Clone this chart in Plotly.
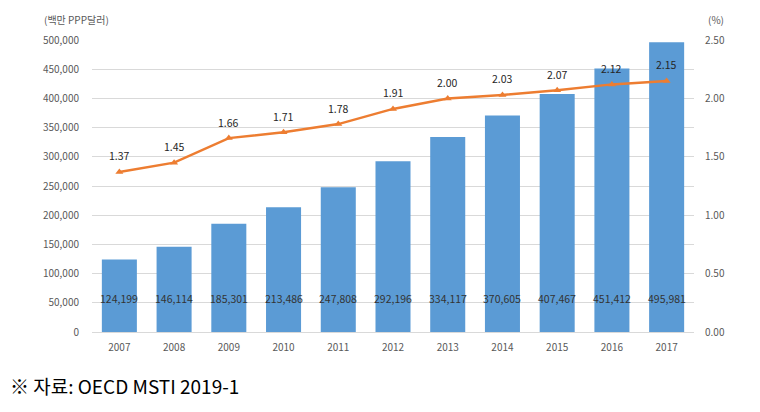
import plotly.graph_objects as go

years = ["2007", "2008", "2009", "2010", "2011", "2012", "2013", "2014", "2015", "2016", "2017"]
rd_spend = [124199, 146114, 185301, 213486, 247808, 292196, 334117, 370605, 407467, 451412, 495981]
gdp_ratio = [1.37, 1.45, 1.66, 1.71, 1.78, 1.91, 2.00, 2.03, 2.07, 2.12, 2.15]
left_ticks = [0, 50000, 100000, 150000, 200000, 250000, 300000, 350000, 400000, 450000, 500000]
right_ticks = [0, 0.5, 1.0, 1.5, 2.0, 2.5]

FONT = "Noto Sans CJK KR"
BAR_LABEL_Y = 57000

OFF = 8  # page body margin
W, H = 760 - OFF, 412 - OFF
L, R, T, B = 92 - OFF, 66, 40 - OFF, 80
pw, ph = W - L - R, H - T - B


def px_to_paper(px, py):
    # px, py given in screenshot pixels
    px -= OFF
    py -= OFF
    return (px - L) / pw, (H - B - py) / ph


fig = go.Figure()
fig.add_trace(go.Bar(
    x=years, y=rd_spend, marker=dict(color="#5B9BD5", line=dict(width=0)),
    yaxis="y", hoverinfo="skip",
))
fig.add_trace(go.Scatter(
    x=years, y=gdp_ratio, yaxis="y2", mode="lines+markers",
    line=dict(color="#ED7D31", width=2.5),
    marker=dict(symbol="triangle-up", size=7, color="#ED7D31"),
    hoverinfo="skip",
))

annotations = []
for i, v in enumerate(rd_spend):
    annotations.append(dict(x=i, y=BAR_LABEL_Y, xref="x", yref="y", text=f"{v:,}",
                            showarrow=False, font=dict(family=FONT, size=10.5, color="#333333")))
for i, v in enumerate(gdp_ratio):
    annotations.append(dict(x=i, y=v, xref="x", yref="y2", text=f"{v:.2f}", yshift=16,
                            showarrow=False, font=dict(family=FONT, size=10.5, color="#262626")))

for text, px, py, size, color in [
    ("(백만 PPP달러)", 42, 20, 10, "#595959"),
    ("(%)", 706, 20, 10, "#595959"),
    ("※ 자료: OECD MSTI 2019-1", 8, 385, 19, "#000000"),
]:
    ax, ay = px_to_paper(px, py)
    annotations.append(dict(text=text, x=ax, y=ay, xref="paper", yref="paper", showarrow=False,
                            xanchor="left", yanchor="middle",
                            font=dict(family=FONT, size=size, color=color)))

fig.update_layout(
    width=W, height=H, margin=dict(l=L, r=R, t=T, b=B),
    paper_bgcolor="white", plot_bgcolor="white", showlegend=False,
    bargap=0.36,
    font=dict(family=FONT, size=10, color="#595959"),
    xaxis=dict(type="category", range=[-0.5, 10.5], showgrid=False, showline=True,
               linecolor="#D9D9D9", linewidth=1,
               ticks="", tickfont=dict(size=10, color="#595959"), ticklabelstandoff=6),
    yaxis=dict(range=[0, 500000], tickvals=left_ticks, tickformat=",", showgrid=True,
               gridcolor="#D9D9D9", gridwidth=1, zeroline=False, showline=False, ticks="",
               tickfont=dict(size=10, color="#595959"), ticklabelstandoff=12),
    yaxis2=dict(range=[0, 2.5], tickvals=right_ticks, tickformat=".2f", overlaying="y", side="right",
                showgrid=False, zeroline=False, showline=False, ticks="",
                tickfont=dict(size=10, color="#595959"), ticklabelstandoff=10),
    annotations=annotations,
)

fig.write_html("out.html")
